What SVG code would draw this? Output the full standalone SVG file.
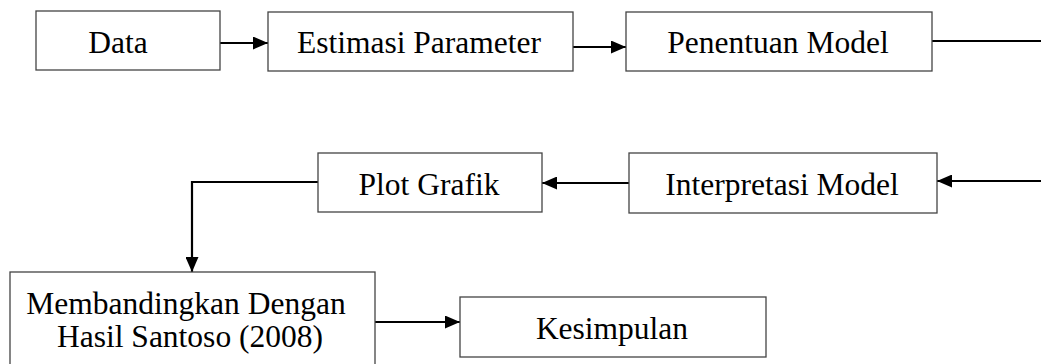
<svg xmlns="http://www.w3.org/2000/svg" width="1041" height="364" viewBox="0 0 1041 364">
<style>
.box{fill:#fff;stroke:#444;stroke-width:1.3}
.lbl{font-family:"Liberation Serif","Times New Roman",serif;font-size:31.5px;fill:#000;text-anchor:middle}
.con{fill:none;stroke:#000;stroke-width:2.2}
</style>
<defs>
<marker id="ah" markerUnits="userSpaceOnUse" markerWidth="16" markerHeight="13" refX="15" refY="6.5" orient="auto">
<path d="M0,0 L15,6.5 L0,13 z" fill="#000"/>
</marker>
</defs>
<rect width="1041" height="364" fill="#fff"/>
<g id="connectors">
<line class="con" x1="220" y1="43" x2="268" y2="43" marker-end="url(#ah)"/>
<line class="con" x1="573" y1="47" x2="626" y2="47" marker-end="url(#ah)"/>
<line class="con" x1="932" y1="41" x2="1041" y2="41"/>
<line class="con" x1="1041" y1="181" x2="937" y2="181" marker-end="url(#ah)"/>
<line class="con" x1="629" y1="183" x2="542" y2="183" marker-end="url(#ah)"/>
<polyline class="con" points="318,182 192,182 192,272" marker-end="url(#ah)"/>
<line class="con" x1="375" y1="322" x2="460" y2="322" marker-end="url(#ah)"/>
</g>
<g id="data">
<rect class="box" x="36" y="11" width="184" height="59"/>
<text class="lbl" x="118" y="53">Data</text>
</g>
<g id="estimasi">
<rect class="box" x="268" y="12" width="305" height="59"/>
<text class="lbl" x="419" y="53">Estimasi Parameter</text>
</g>
<g id="penentuan">
<rect class="box" x="626" y="12" width="306" height="59"/>
<text class="lbl" x="778" y="53">Penentuan Model</text>
</g>
<g id="interpretasi">
<rect class="box" x="629" y="153" width="308" height="60"/>
<text class="lbl" x="782" y="195">Interpretasi Model</text>
</g>
<g id="plot">
<rect class="box" x="318" y="153" width="224" height="59"/>
<text class="lbl" x="429" y="195">Plot Grafik</text>
</g>
<g id="membandingkan">
<rect class="box" x="10" y="272" width="365" height="100"/>
<text class="lbl" x="186" y="314">Membandingkan Dengan</text>
<text class="lbl" x="190" y="347">Hasil Santoso (2008)</text>
</g>
<g id="kesimpulan">
<rect class="box" x="460" y="297" width="306" height="60"/>
<text class="lbl" x="612" y="339">Kesimpulan</text>
</g>
</svg>
